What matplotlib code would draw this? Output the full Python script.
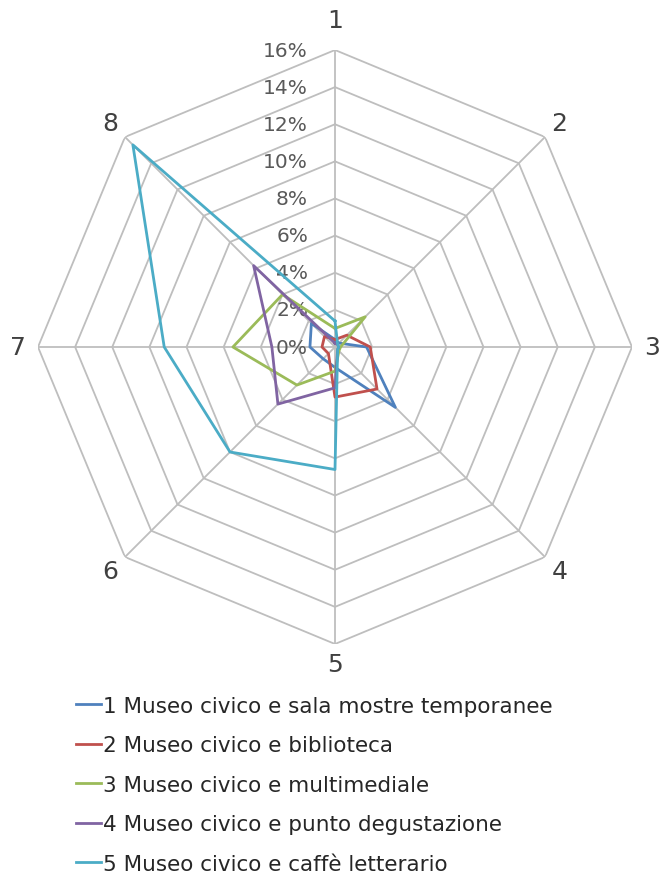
import numpy as np
import matplotlib
matplotlib.use("Agg")
import matplotlib.pyplot as plt
from matplotlib.transforms import offset_copy

axes_labels = ["1", "2", "3", "4", "5", "6", "7", "8"]
tick_values = [0, 2, 4, 6, 8, 10, 12, 14, 16]
tick_labels = ["0%", "2%", "4%", "6%", "8%", "10%", "12%", "14%", "16%"]

series_names = [
    "1 Museo civico e sala mostre temporanee",
    "2 Museo civico e biblioteca",
    "3 Museo civico e multimediale",
    "4 Museo civico e punto degustazione",
    "5 Museo civico e caffè letterario",
]
s1 = [0.4, 0.3, 1.7, 4.6, 1.1, 0.9, 1.35, 1.8]
s2 = [0.4, 0.9, 1.9, 3.2, 2.7, 0.5, 0.7, 0.8]
s3 = [1.0, 2.3, 0.3, 0.3, 1.3, 2.9, 5.5, 4.0]
s4 = [0.2, 0.2, 0.2, 0.2, 2.2, 4.35, 3.4, 6.2]
s5 = [1.4, 0.2, 0.2, 0.2, 6.6, 8.0, 9.2, 15.4]
series_values = [s1, s2, s3, s4, s5]
colors = ["#4F81BD", "#C0504D", "#9BBB59", "#8064A2", "#4BACC6"]

W, H = 659, 887
fig = plt.figure(figsize=(W / 100, H / 100), dpi=100)
cx, cy, R = 335, 348, 297
ax = fig.add_axes([(cx - R) / W, (H - cy - R) / H, 2 * R / W, 2 * R / H], projection="polar")
ax.set_theta_offset(np.pi / 2)
ax.set_theta_direction(-1)
ax.set_ylim(0, 16)
ax.grid(False)
ax.spines["polar"].set_visible(False)
ax.set_xticks([])
ax.set_yticks([])
ax.patch.set_visible(False)

n = len(axes_labels)
theta = np.arange(n) * 2 * np.pi / n
theta_closed = np.append(theta, theta[0])

grid_color = "#BEBEBE"
for v in tick_values[1:]:
    ax.plot(theta_closed, [v] * (n + 1), color=grid_color, lw=1.3, zorder=1)
for t in theta:
    ax.plot([t, t], [0, 16], color=grid_color, lw=1.3, zorder=1)

trans = offset_copy(ax.transData, fig=fig, x=-27, y=0, units="dots")
for v, lab in zip(tick_values, tick_labels):
    ax.text(0, v, lab, transform=trans, ha="right", va="center",
            fontsize=14.5, color="#595959", zorder=2)

for i, lab in enumerate(axes_labels):
    r = 17.6 if i == 0 else 17.1
    ax.text(theta[i], r, lab, ha="center", va="center", fontsize=18,
            color="#404040", clip_on=False)

handles = []
for name, vals, c in zip(series_names, series_values, colors):
    h, = ax.plot(theta_closed, list(vals) + [vals[0]], color=c, lw=2.0,
                 label=name, zorder=3, clip_on=False)
    handles.append(h)

fig.legend(handles=handles, loc="upper left", bbox_to_anchor=(67 / W, 1 - 688 / H),
           frameon=False, fontsize=15.5, handlelength=1.2, handletextpad=0.05,
           labelspacing=0.91, borderaxespad=0, labelcolor="#262626")

fig.savefig("out.png", dpi=100)
